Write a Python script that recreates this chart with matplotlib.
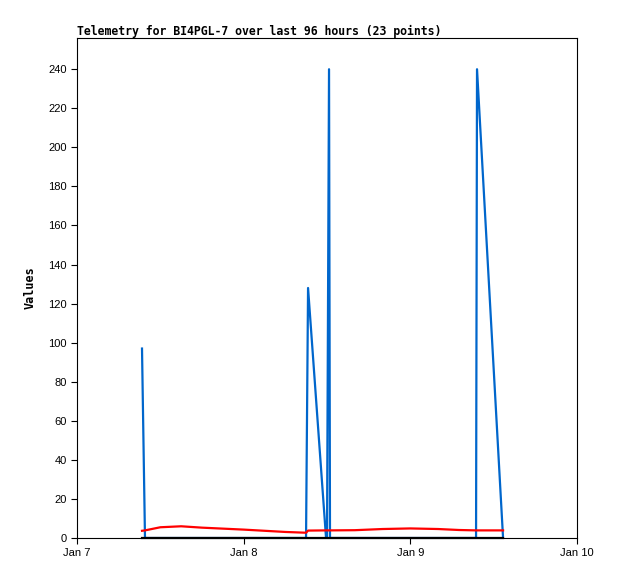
import matplotlib
matplotlib.use("Agg")
import matplotlib.pyplot as plt

# hours since Jan 7 00:00
hours = [9.36, 9.79, 12, 15, 18, 21, 24, 27, 30, 32.98, 33.27, 35.86, 36.0, 36.29,
         36.43, 40, 44, 48, 52, 55, 57.46, 57.6, 61.35]
blue_vals = [97, 0, 0, 0, 0, 0, 0, 0, 0, 0, 128, 0, 0, 240,
             0, 0, 0, 0, 0, 0, 0, 240, 0]
red_vals = [3.7, 3.9, 5.5, 6.0, 5.3, 4.8, 4.3, 3.7, 3.1, 2.7, 3.8, 3.9, 3.9, 3.9,
            3.9, 4.0, 4.6, 4.9, 4.6, 4.1, 3.9, 3.9, 3.9]
black_vals = [0] * len(hours)

day_ticks = [0, 24, 48, 72]
day_labels = ["Jan 7", "Jan 8", "Jan 9", "Jan 10"]
y_ticks = list(range(0, 241, 20))

fig = plt.figure(figsize=(6.18, 5.79), dpi=100)
ax = fig.add_axes([0.1246, 0.0708, 0.8091, 0.8636])

ax.plot(hours, blue_vals, color="#0066cc", linewidth=1.6)
ax.plot(hours, red_vals, color="#ff0000", linewidth=1.6)
ax.plot(hours, black_vals, color="black", linewidth=1.6, clip_on=False)

ax.set_xlim(0, 72)
ax.set_ylim(0, 256)
ax.set_xticks(day_ticks)
ax.set_xticklabels(day_labels)
ax.set_yticks(y_ticks)
ax.tick_params(axis="both", labelsize=8, length=4, width=0.8, direction="out")
for lbl in ax.get_xticklabels() + ax.get_yticklabels():
    lbl.set_family("Liberation Sans")
for s in ax.spines.values():
    s.set_linewidth(0.8)

ax.set_ylabel("Values", family="DejaVu Sans Mono", fontweight="bold", fontsize=8.5, labelpad=8)
ax.set_title("Telemetry for BI4PGL-7 over last 96 hours (23 points)", loc="left",
             family="DejaVu Sans Mono", fontweight="bold", fontsize=8.3, pad=2)

fig.savefig("out.png", dpi=100)
